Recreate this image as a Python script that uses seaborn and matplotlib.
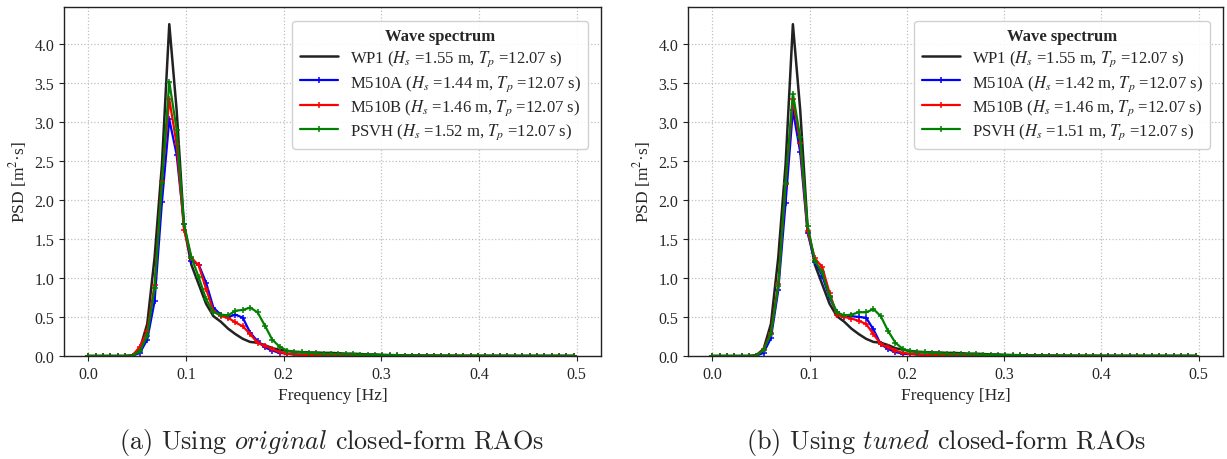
import numpy as np
import seaborn as sns
from matplotlib import pyplot as plt

# frequency resolution of the spectra (Hz)
DF = 0.00753

# WP1 (measured), same in both panels
wp1 = [0, 0, 0, 0, 0, 0, 0.01, 0.09, 0.41, 1.26, 2.45, 4.25, 3.15, 1.66, 1.17, 0.92, 0.67,
       0.51, 0.44, 0.35, 0.28, 0.22, 0.18, 0.17, 0.14, 0.10, 0.08,
       0.065, 0.055, 0.05, 0.045, 0.045, 0.04, 0.04, 0.035, 0.03, 0.03, 0.025, 0.02, 0.02,
       0.015, 0.012, 0.01, 0.008, 0.007, 0.006, 0.005, 0.005, 0.004, 0.004, 0.003, 0.003,
       0.003, 0.002, 0.002, 0.002, 0.002, 0.002, 0.001, 0.001, 0.001, 0.001, 0.001, 0.001,
       0.001, 0.001, 0.001]

# (a) original closed-form RAOs
m510a_a = [0, 0, 0, 0, 0, 0, 0.003, 0.04, 0.21, 0.70, 1.97, 3.03, 2.58, 1.69, 1.22, 1.17, 0.94,
           0.62, 0.53, 0.50, 0.53, 0.49, 0.30, 0.19, 0.11, 0.07, 0.04,
           0.03, 0.02, 0.015, 0.012, 0.01, 0.009, 0.008, 0.007, 0.006, 0.005, 0.005, 0.004,
           0.004, 0.003, 0.003, 0.003, 0.002, 0.002, 0.002, 0.002, 0.002, 0.001, 0.001, 0.001,
           0.001, 0.001, 0.001, 0.001, 0.001, 0.001, 0.001, 0.001, 0.001, 0.001, 0.001, 0.001,
           0.001, 0.001, 0.001, 0.001]
m510b_a = [0, 0, 0, 0, 0, 0, 0.005, 0.12, 0.32, 0.91, 2.24, 3.29, 2.71, 1.62, 1.26, 1.16, 0.86,
           0.58, 0.51, 0.49, 0.43, 0.38, 0.28, 0.17, 0.13, 0.09, 0.05,
           0.03, 0.02, 0.015, 0.012, 0.01, 0.009, 0.008, 0.007, 0.006, 0.005, 0.005, 0.004,
           0.004, 0.003, 0.003, 0.003, 0.002, 0.002, 0.002, 0.002, 0.002, 0.001, 0.001, 0.001,
           0.001, 0.001, 0.001, 0.001, 0.001, 0.001, 0.001, 0.001, 0.001, 0.001, 0.001, 0.001,
           0.001, 0.001, 0.001, 0.001]
psvh_a = [0, 0, 0, 0, 0, 0, 0.004, 0.06, 0.26, 0.87, 2.22, 3.51, 2.90, 1.69, 1.27, 1.01, 0.73,
          0.56, 0.53, 0.52, 0.58, 0.59, 0.62, 0.56, 0.39, 0.21, 0.12,
          0.07, 0.05, 0.045, 0.04, 0.035, 0.03, 0.028, 0.025, 0.022, 0.02, 0.018, 0.015,
          0.012, 0.01, 0.008, 0.007, 0.006, 0.005, 0.004, 0.004, 0.003, 0.003, 0.003, 0.002,
          0.002, 0.002, 0.002, 0.002, 0.001, 0.001, 0.001, 0.001, 0.001, 0.001, 0.001, 0.001,
          0.001, 0.001, 0.001, 0.001]

# (b) tuned closed-form RAOs
m510a_b = [0, 0, 0, 0, 0, 0, 0.003, 0.04, 0.23, 0.84, 1.96, 3.15, 2.61, 1.58, 1.21, 1.03, 0.75,
           0.56, 0.50, 0.51, 0.50, 0.49, 0.34, 0.15, 0.09, 0.05, 0.03,
           0.025, 0.02, 0.015, 0.012, 0.01, 0.009, 0.008, 0.007, 0.006, 0.005, 0.005, 0.004,
           0.004, 0.003, 0.003, 0.003, 0.002, 0.002, 0.002, 0.002, 0.002, 0.001, 0.001, 0.001,
           0.001, 0.001, 0.001, 0.001, 0.001, 0.001, 0.001, 0.001, 0.001, 0.001, 0.001, 0.001,
           0.001, 0.001, 0.001, 0.001]
m510b_b = [0, 0, 0, 0, 0, 0, 0.005, 0.085, 0.30, 0.92, 2.20, 3.29, 2.73, 1.60, 1.25, 1.14, 0.81,
           0.53, 0.50, 0.48, 0.45, 0.41, 0.28, 0.15, 0.11, 0.07, 0.04,
           0.03, 0.02, 0.015, 0.012, 0.01, 0.009, 0.008, 0.007, 0.006, 0.005, 0.005, 0.004,
           0.004, 0.003, 0.003, 0.003, 0.002, 0.002, 0.002, 0.002, 0.002, 0.001, 0.001, 0.001,
           0.001, 0.001, 0.001, 0.001, 0.001, 0.001, 0.001, 0.001, 0.001, 0.001, 0.001, 0.001,
           0.001, 0.001, 0.001, 0.001]
psvh_b = [0, 0, 0, 0, 0, 0, 0.004, 0.08, 0.28, 0.90, 2.22, 3.36, 2.80, 1.67, 1.22, 1.07, 0.77,
          0.56, 0.52, 0.53, 0.56, 0.56, 0.60, 0.51, 0.32, 0.17, 0.09,
          0.06, 0.05, 0.045, 0.04, 0.035, 0.03, 0.028, 0.025, 0.022, 0.02, 0.018, 0.015,
          0.012, 0.01, 0.008, 0.007, 0.006, 0.005, 0.004, 0.004, 0.003, 0.003, 0.003, 0.002,
          0.002, 0.002, 0.002, 0.002, 0.001, 0.001, 0.001, 0.001, 0.001, 0.001, 0.001, 0.001,
          0.001, 0.001, 0.001, 0.001]

names = ["WP1", "M510A", "M510B", "PSVH"]
colors = ["#222222", "blue", "red", "green"]
hs_a = [1.55, 1.44, 1.46, 1.52]
hs_b = [1.55, 1.42, 1.46, 1.51]
tp = [12.07, 12.07, 12.07, 12.07]

sns.set_style("ticks")
plt.rcParams['font.family'] = ['Liberation Serif', 'DejaVu Serif']
plt.rcParams['mathtext.fontset'] = 'stix'


def plot_panel(ax, series, hs):
    for name, vals, col, h, t in zip(names, series, colors, hs, tp):
        freq = DF * np.arange(len(vals))
        label = f"{name} ($H_s$ ={h:.2f} m, $T_p$ ={t:.2f} s)"
        if name == "WP1":
            sns.lineplot(x=freq, y=vals, ax=ax, color=col, lw=1.8, label=label)
        else:
            sns.lineplot(x=freq, y=vals, ax=ax, color=col, lw=1.6, marker='+',
                         markersize=5, markeredgewidth=1.1, markeredgecolor=col, label=label)
    ax.set_ylim(0, 4.47)
    ax.set_xlim(-0.025, 0.525)
    ax.set_xticks(np.arange(0, 0.51, 0.1))
    ax.set_yticks(np.arange(0, 4.01, 0.5))
    ax.grid(True, ls=':', color='#c0c0c0', lw=0.9)
    for s in ax.spines.values():
        s.set_color('#222222')
        s.set_linewidth(1.0)
    ax.tick_params(labelsize=11.5, length=3.5, color='#222222')
    ax.set_xlabel("Frequency [Hz]", fontsize=12.5)
    ax.set_ylabel("PSD [m$^2$·s]", fontsize=12.5)
    ax.legend(title="Wave spectrum", loc="upper right", fontsize=12,
              title_fontproperties={'weight': 'bold', 'size': 12},
              fancybox=True, framealpha=0.9, edgecolor='#cccccc',
              handlelength=2.3, labelspacing=0.28, borderpad=0.45, handletextpad=0.7,
              bbox_to_anchor=(0.992, 0.985))


fig = plt.figure(figsize=(12.27, 4.6), dpi=100)
ax1 = fig.add_axes([64 / 1227, 1 - 357 / 460, 537 / 1227, 349 / 460])
ax2 = fig.add_axes([688 / 1227, 1 - 357 / 460, 535 / 1227, 349 / 460])

plot_panel(ax1, [wp1, m510a_a, m510b_a, psvh_a], hs_a)
plot_panel(ax2, [wp1, m510a_b, m510b_b, psvh_b], hs_b)

fig.text(332 / 1227, 1 - 443 / 460, r"(a) Using $\mathit{original}$ closed-form RAOs",
         ha='center', va='center', fontsize=18.8, family='cmr10', math_fontfamily='cm')
fig.text(946 / 1227, 1 - 443 / 460, r"(b) Using $\mathit{tuned}$ closed-form RAOs",
         ha='center', va='center', fontsize=18.8, family='cmr10', math_fontfamily='cm')

fig.savefig("out.png", dpi=100)
